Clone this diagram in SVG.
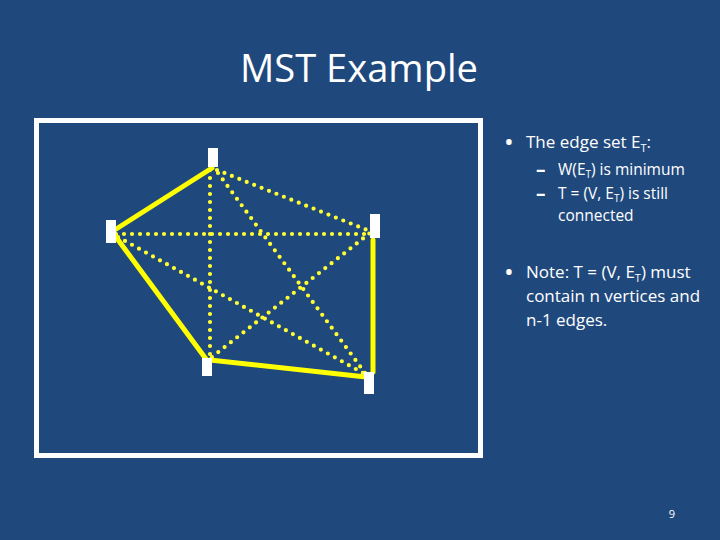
<svg xmlns="http://www.w3.org/2000/svg" width="720" height="540" viewBox="0 0 720 540">
<style>
.t{font-family:"Open Sans","Liberation Sans",sans-serif;fill:#fff}
.solid{stroke:#ffff00;stroke-width:5;fill:none;stroke-linecap:round}
.dot{stroke:#ffff33;stroke-width:4.2;fill:none;stroke-linecap:round;stroke-dasharray:0 8}
.node{fill:#fff}
</style>
<rect width="720" height="540" fill="#1f497d"/>
<text class="t" x="359" y="82" font-size="38" text-anchor="middle" textLength="238" lengthAdjust="spacingAndGlyphs">MST Example</text>
<rect x="36.5" y="120.5" width="444" height="335" fill="none" stroke="#fff" stroke-width="5"/>
<g id="connectors">
<line class="dot" x1="210" y1="170" x2="210" y2="357"/>
<line class="dot" x1="217" y1="170" x2="367" y2="230"/>
<line class="dot" x1="218" y1="173" x2="365" y2="373"/>
<line class="dot" x1="116" y1="234" x2="370" y2="234"/>
<line class="dot" x1="118" y1="237" x2="363" y2="373"/>
<line class="dot" x1="212" y1="357" x2="370" y2="233"/>
<line class="solid" x1="212" y1="168" x2="113" y2="231"/>
<line class="solid" x1="113" y1="233" x2="206" y2="359"/>
<line class="solid" x1="210" y1="360" x2="366" y2="377"/>
<line class="solid" x1="373" y1="240" x2="373" y2="372"/>
</g>
<g id="n1"><rect class="node" x="208" y="148" width="10" height="19"/></g>
<g id="n2"><rect class="node" x="106" y="220" width="10" height="23"/></g>
<g id="n3"><rect class="node" x="370" y="214" width="10" height="24"/></g>
<g id="n4"><rect class="node" x="202" y="358" width="10" height="18"/></g>
<g id="n5"><rect class="node" x="364" y="372" width="10" height="22"/></g>
<g class="t" font-size="17">
<text x="504" y="151" font-size="26">•</text>
<text x="526" y="148">The edge set E<tspan font-size="11" dy="4">T</tspan><tspan dy="-4">:</tspan></text>
<text x="504" y="281" font-size="26">•</text>
<text x="526" y="278">Note: T = (V, E<tspan font-size="11" dy="4">T</tspan><tspan dy="-4">) must</tspan></text>
<text x="526" y="302">contain n vertices and</text>
<text x="526" y="326">n-1 edges.</text>
</g>
<g class="t" font-size="15.5">
<text x="536" y="176" font-size="19" font-weight="bold">–</text>
<text x="558" y="175">W(E<tspan font-size="10" dy="3">T</tspan><tspan dy="-3">) is minimum</tspan></text>
<text x="536" y="200" font-size="19" font-weight="bold">–</text>
<text x="558" y="199">T = (V, E<tspan font-size="10" dy="3">T</tspan><tspan dy="-3">) is still</tspan></text>
<text x="558" y="221">connected</text>
</g>
<text class="t" x="672" y="518" font-size="11" text-anchor="middle">9</text>
</svg>
